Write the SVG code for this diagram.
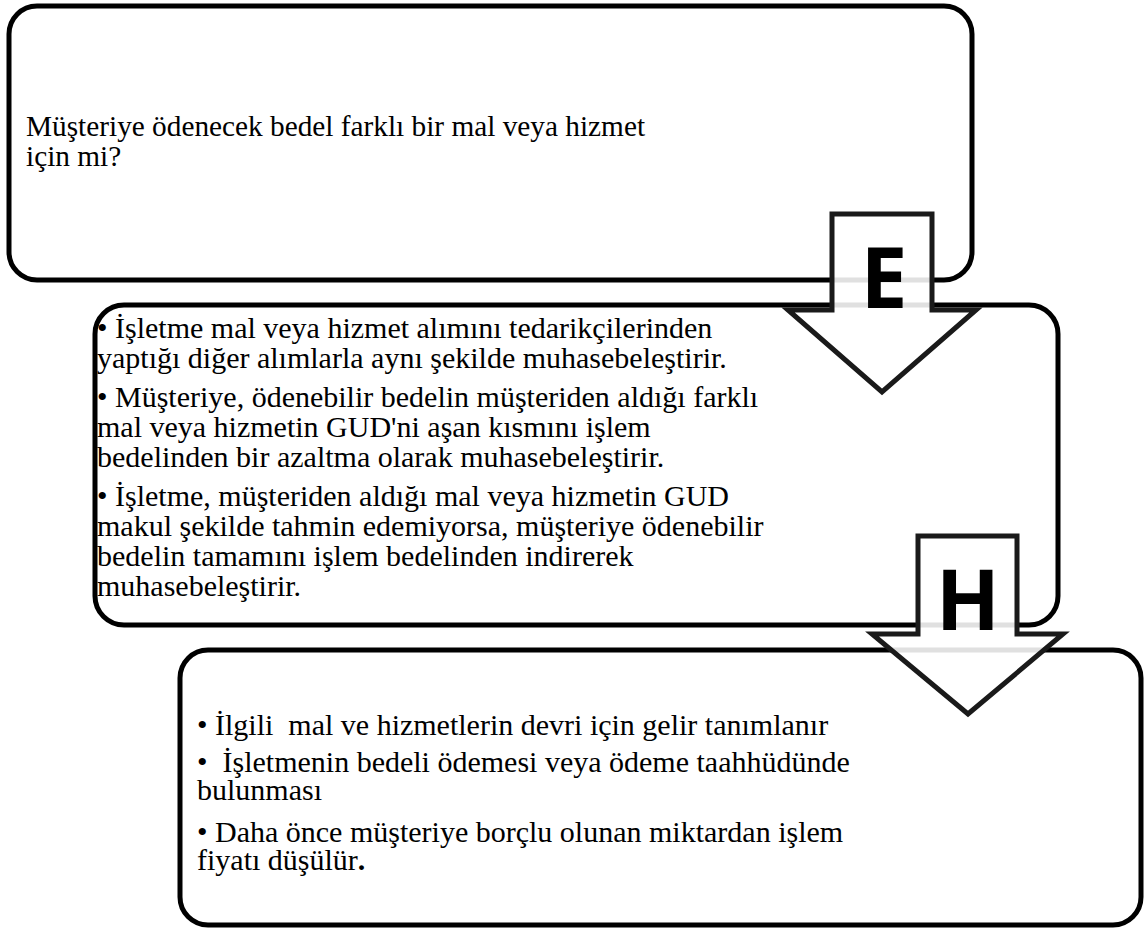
<svg xmlns="http://www.w3.org/2000/svg" width="1147" height="930" viewBox="0 0 1147 930">
<style>
.box{fill:#fff;stroke:#000;stroke-width:5}
.arrow{fill:#fff;fill-opacity:0.88;stroke:#1a1a1a;stroke-width:5;stroke-linejoin:miter;stroke-miterlimit:10}
.t{font-family:"Liberation Serif","Times New Roman",serif;font-size:30px;fill:#000;white-space:pre}
.t1{font-size:29.3px}
.L{font-family:"Open Sans","DejaVu Sans",sans-serif;font-weight:bold;font-size:84px;fill:#000;text-anchor:middle}
</style>
<rect width="1147" height="930" fill="#fff"/>
<g id="node1">
<rect class="box" x="9" y="6" width="963" height="274" rx="28"/>
<text class="t t1"><tspan x="26" y="136">Müşteriye ödenecek bedel farklı bir mal veya hizmet</tspan><tspan x="26" y="166">için mi?</tspan></text>
</g>
<g id="node2">
<rect class="box" x="95" y="305" width="963" height="320" rx="29"/>
<text class="t"><tspan x="97" y="338">• İşletme mal veya hizmet alımını tedarikçilerinden</tspan><tspan x="97" y="368">yaptığı diğer alımlarla aynı şekilde muhasebeleştirir.</tspan><tspan x="97" y="407">• Müşteriye, ödenebilir bedelin müşteriden aldığı farklı</tspan><tspan x="97" y="437">mal veya hizmetin GUD'ni aşan kısmını işlem</tspan><tspan x="97" y="467">bedelinden bir azaltma olarak muhasebeleştirir.</tspan><tspan x="97" y="506">• İşletme, müşteriden aldığı mal veya hizmetin GUD</tspan><tspan x="97" y="536">makul şekilde tahmin edemiyorsa, müşteriye ödenebilir</tspan><tspan x="97" y="566">bedelin tamamını işlem bedelinden indirerek</tspan><tspan x="97" y="596">muhasebeleştirir.</tspan></text>
</g>
<g id="connectors">
<g id="arrowE">
<path class="arrow" d="M832,214 L932,214 L932,310 L976,310 L882,392 L788,310 L832,310 Z"/>
<text class="L" x="884" y="308">E</text>
</g>
</g>
<g id="node3">
<rect class="box" x="180" y="650" width="961" height="275" rx="28"/>
<text class="t"><tspan x="197" y="735">• İlgili  mal ve hizmetlerin devri için gelir tanımlanır</tspan><tspan x="197" y="772">•  İşletmenin bedeli ödemesi veya ödeme taahhüdünde</tspan><tspan x="197" y="800">bulunması</tspan><tspan x="197" y="842">• Daha önce müşteriye borçlu olunan miktardan işlem</tspan><tspan x="197" y="870">fiyatı düşülür<tspan font-weight="bold">.</tspan></tspan></text>
</g>
<g id="connectors2">
<g id="arrowH">
<path class="arrow" d="M918,536 L1017,536 L1017,634 L1063,634 L968,714 L872,634 L918,634 Z"/>
<text class="L" x="968" y="630">H</text>
</g>
</g>
</svg>
